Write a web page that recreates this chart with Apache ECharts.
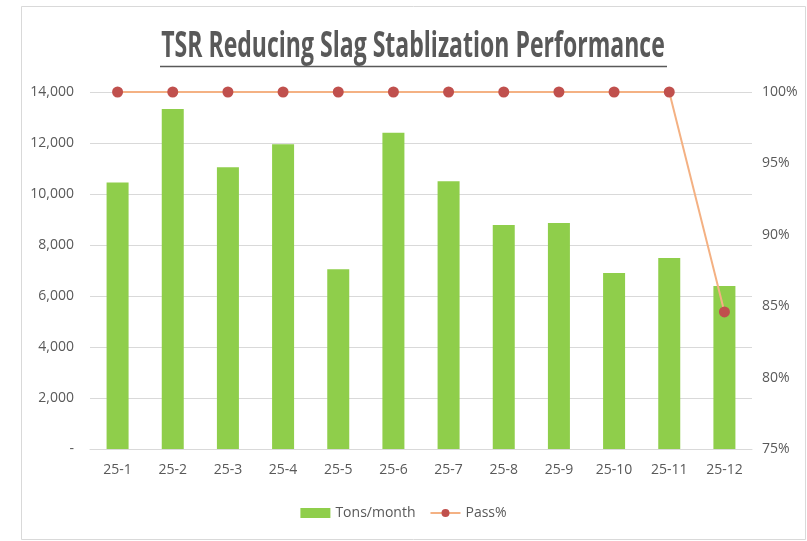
<!DOCTYPE html>
<html>
<head>
<meta charset="utf-8">
<script src="https://cdn.jsdelivr.net/npm/echarts@6/dist/echarts.min.js"></script>
<style>
  html, body { margin: 0; padding: 0; background: #fff; }
  #main { width: 807px; height: 541px; }
</style>
</head>
<body>
<div id="main"></div>
<script>
// months, tonnage and pass rate
var months = ['25-1', '25-2', '25-3', '25-4', '25-5', '25-6', '25-7', '25-8', '25-9', '25-10', '25-11', '25-12'];
var tonsPerMonth = [10450, 13330, 11050, 11950, 7050, 12400, 10500, 8780, 8860, 6900, 7490, 6390];
var passRate = [100, 100, 100, 100, 100, 100, 100, 100, 100, 100, 100, 84.6];

var fontFam = '"Open Sans", sans-serif';
var textGrey = '#595959';

var chart = echarts.init(document.getElementById('main'));

chart.setOption({
  animation: false,
  backgroundColor: '#fff',
  graphic: [
    {
      // outer frame
      type: 'rect',
      shape: { x: 21.5, y: 6.5, width: 784, height: 533 },
      style: { fill: 'none', stroke: '#d9d9d9', lineWidth: 1 },
      silent: true
    },
    {
      // title, squeezed horizontally to look like the narrow original font
      type: 'text',
      x: 413,
      y: 47,
      scaleX: 0.64,
      style: {
        text: 'TSR Reducing Slag Stablization Performance',
        x: 0,
        y: 0,
        align: 'center',
        verticalAlign: 'middle',
        fontFamily: fontFam,
        fontSize: 36,
        fontWeight: 'bold',
        fill: textGrey
      },
      silent: true
    },
    {
      // title underline
      type: 'line',
      shape: { x1: 160, y1: 66.5, x2: 667, y2: 66.5 },
      style: { stroke: textGrey, lineWidth: 1.5 },
      silent: true
    }
  ],
  legend: {
    bottom: 16,
    left: 'center',
    itemGap: 14,
    itemWidth: 30,
    itemHeight: 10,
    textStyle: { fontFamily: fontFam, fontSize: 14, color: textGrey },
    data: [
      { name: 'Tons/month', icon: 'rect' },
      { name: 'Pass%' }
    ]
  },
  grid: {
    left: 90,
    right: 55,
    top: 92,
    bottom: 92
  },
  xAxis: {
    type: 'category',
    data: months,
    axisTick: { show: false },
    axisLine: { lineStyle: { color: '#d9d9d9' } },
    axisLabel: {
      margin: 14,
      fontFamily: fontFam,
      fontSize: 14,
      color: textGrey
    }
  },
  yAxis: [
    {
      type: 'value',
      min: 0,
      max: 14000,
      interval: 2000,
      axisLine: { show: false },
      axisTick: { show: false },
      splitLine: { lineStyle: { color: '#d9d9d9' } },
      axisLabel: {
        margin: 16,
        fontFamily: fontFam,
        fontSize: 14,
        color: textGrey,
        formatter: function (v) {
          return v === 0 ? '-' : v.toLocaleString('en-US');
        }
      }
    },
    {
      type: 'value',
      min: 75,
      max: 100,
      interval: 5,
      axisLine: { show: false },
      axisTick: { show: false },
      splitLine: { show: false },
      axisLabel: {
        margin: 10,
        fontFamily: fontFam,
        fontSize: 14,
        color: textGrey,
        formatter: '{value}%'
      }
    }
  ],
  series: [
    {
      name: 'Tons/month',
      type: 'bar',
      data: tonsPerMonth,
      barWidth: 22,
      itemStyle: { color: '#8fce4b' }
    },
    {
      name: 'Pass%',
      type: 'line',
      yAxisIndex: 1,
      data: passRate,
      symbol: 'circle',
      symbolSize: 11,
      lineStyle: { color: '#f4b183', width: 2 },
      itemStyle: { color: '#c0504d' }
    }
  ]
});
</script>
</body>
</html>
